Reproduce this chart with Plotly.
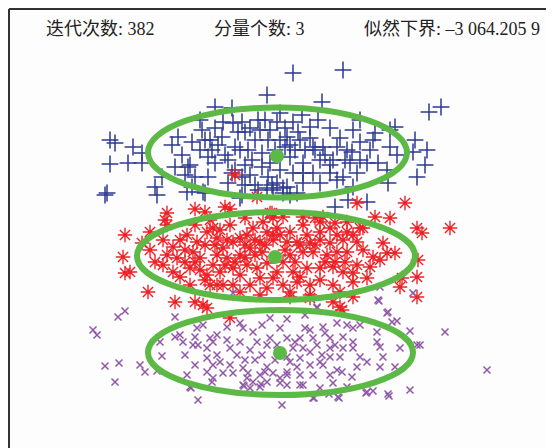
import plotly.graph_objects as go

# ---- data (pixel-space estimates) ----
blue_pts = [(267,95),(215,107),(232,108),(110,140),(115,143),(133,147),(142,153),(110,164),(128,163),(142,163),
 (105,195),(162,177),(155,187),(157,195),(172,145),(182,155),(175,167),(188,167),(192,142),(202,130),(205,140),
 (212,150),(222,137),(223,122),(233,123),(238,132),(242,122),(195,177),(208,177),(192,187),(205,193),(228,160),
 (232,173),(228,183),(242,177),(235,147),(248,150),(252,160),(255,140),(262,153),(262,167),(268,140),(265,120),
 (258,120),(268,177),(258,190),(242,195),(178,137),(208,157),(215,163),(293,73),(343,70),(322,102),(429,112),
 (441,107),(280,113),(302,115),(293,122),(310,127),(330,128),(353,130),(360,120),(373,140),(390,130),(395,127),
 (287,137),(300,140),(313,147),(323,147),(337,147),(347,150),(360,142),(390,147),(397,155),(415,140),(413,152),
 (427,150),(425,165),(417,177),(290,157),(303,163),(320,160),(333,160),(350,163),(360,160),(367,163),(280,170),
 (293,173),(303,173),(313,173),(330,173),(343,177),(357,173),(387,170),(277,183),(287,187),(303,183),(320,183),
 (337,180),(353,187),(388,183),(283,193),(297,193),(283,188),(290,195),(335,207),(348,200),(367,202),(107,193),
 (187,192),(203,192),(240,198),(267,188),(273,190),(245,165),(250,175),(270,163),(275,150),(285,147),(280,140),
 (290,145),(295,150),(272,185),(255,185),(245,185),(235,170),(225,155),(218,145),(210,140),(200,150),(190,165),
 (185,175),(270,130),(285,128),(298,132),(310,138),(315,150),(325,155),(340,138),(345,160),(352,152),(370,150),
 (378,163),(375,133),(260,130),(250,128),(240,150),(200,120),(215,128),(245,132),(277,122),(305,150),(330,165),
 (318,120)]

red_pts = [(195,209),(225,207),(230,209),(167,213),(165,220),(167,225),(210,220),(245,218),(270,213),(125,235),
 (123,257),(125,273),(130,272),(148,292),(175,302),(195,302),(142,243),(163,240),(173,247),(167,255),(177,258),
 (163,265),(173,272),(180,277),(187,235),(197,242),(193,252),(200,258),(190,268),(200,270),(207,275),(190,285),
 (210,285),(217,238),(227,240),(223,248),(233,242),(240,238),(217,255),(227,258),(240,255),(250,248),(260,242),
 (267,232),(273,235),(213,265),(220,272),(233,268),(240,275),(247,265),(257,268),(267,263),(260,278),(250,285),
 (233,285),(223,285),(217,285),(267,288),(273,278),(207,232),(213,228),(247,235),(253,228),(263,222),(273,218),
 (357,203),(405,203),(450,228),(272,213),(283,217),(303,217),(315,218),(323,217),(347,222),(363,228),(375,217),
 (390,218),(417,228),(422,233),(277,228),(290,232),(303,225),(307,235),(320,232),(330,228),(337,235),(347,232),
 (353,235),(360,228),(273,240),(287,242),(297,242),(310,243),(320,240),(330,243),(343,240),(357,242),(383,243),
 (387,253),(395,253),(363,250),(373,257),(380,260),(370,267),(357,265),(347,252),(337,252),(327,255),(313,252),
 (303,252),(290,255),(283,262),(418,260),(417,277),(402,278),(277,272),(293,272),(307,268),(320,268),(333,267),
 (343,272),(353,273),(367,278),(283,285),(297,282),(310,285),(333,285),(353,282),(290,292),(310,295),(340,292),
 (333,302),(400,287),(417,297),(340,307),(203,305),(207,308),(230,318),(290,297),(310,298),(353,297),(342,310),
 (235,175),(257,197),(180,240),(185,250),(205,245),(215,245),(225,265),(235,262),(245,258),(255,255),(262,252),
 (285,250),(295,262),(300,245),(315,245),(325,262),(335,262),(345,262),(195,262),(185,262),(205,280),(245,245),
 (255,240),(280,235),(265,245),(300,277),(320,280),(240,292),(260,295),(150,250),(155,262),(220,230),(230,225),
 (320,222),(335,223),(150,232),(205,212),(195,225)]

purple_pts = [(125,311),(118,317),(175,317),(93,330),(97,335),(105,366),(119,363),(140,365),(145,372),(157,371),
 (115,382),(160,342),(162,356),(175,337),(180,335),(183,342),(197,328),(203,325),(195,337),(185,355),(193,345),
 (198,345),(207,348),(213,342),(217,335),(227,327),(240,323),(243,328),(253,332),(262,325),(270,318),(280,328),
 (195,365),(207,358),(213,365),(217,355),(227,340),(230,348),(237,355),(240,342),(250,350),(257,342),(267,345),
 (270,338),(277,345),(187,375),(207,372),(213,378),(223,373),(233,373),(243,368),(247,378),(253,382),(260,375),
 (267,367),(273,373),(280,378),(287,372),(190,387),(243,385),(250,388),(260,387),(267,382),(280,383),(198,400),
 (282,405),(379,301),(388,312),(397,321),(410,331),(445,332),(287,319),(305,315),(317,308),(305,328),(323,327),
 (337,323),(347,325),(353,328),(360,325),(377,332),(287,338),(300,338),(313,338),(330,338),(343,337),(353,342),
 (377,342),(380,347),(400,348),(417,345),(420,345),(293,348),(303,348),(317,345),(330,348),(343,348),(353,348),
 (287,357),(300,358),(320,362),(330,357),(340,357),(360,357),(383,357),(297,367),(310,365),(323,365),(337,370),
 (357,367),(367,362),(380,367),(395,367),(287,375),(300,375),(313,375),(330,375),(342,372),(352,377),(287,385),
 (303,385),(333,383),(347,387),(367,392),(373,391),(388,394),(410,390),(313,398),(338,397),(487,370),(191,388),
 (212,382),(244,386),(261,384),(314,398),(329,394),(339,398),(366,393),(389,396),(380,287),(378,300),(413,293),
 (317,307),(233,293),(387,313),(392,322),(220,362),(230,365),(255,360),(262,355),(290,362),(295,342),(310,352),
 (322,355),(335,345),(265,372),(275,360),(300,385),(320,388),(210,338),(245,360),(310,330),(325,333),(248,373)]

blue_x = [p[0] for p in blue_pts]; blue_y = [p[1] for p in blue_pts]
red_x = [p[0] for p in red_pts]; red_y = [p[1] for p in red_pts]
purple_x = [p[0] for p in purple_pts]; purple_y = [p[1] for p in purple_pts]

center_x = [277, 275, 280]
center_y = [156, 257, 353]
ell_cx = [277.5, 276, 280.5]
ell_cy = [152.5, 256, 352.5]
ell_rx = [129.5, 139, 132.5]
ell_ry = [45, 44, 42.5]

titles = ["迭代次数: 382", "分量个数: 3", "似然下界: –3 064.205 9"]
title_x = [44, 212, 362]
title_y = [29, 29, 29]

GREEN = "#5cb946"
OFF = 8  # page body margin

fig = go.Figure()
fig.add_trace(go.Scatter(x=blue_x, y=blue_y, mode="markers",
    marker=dict(symbol="cross-thin", size=12, line=dict(color="#2b3990", width=1.5))))
fig.add_trace(go.Scatter(x=red_x, y=red_y, mode="markers",
    marker=dict(symbol="asterisk", size=12, line=dict(color="#ec2227", width=1.4))))
fig.add_trace(go.Scatter(x=purple_x, y=purple_y, mode="markers",
    marker=dict(symbol="x-thin", size=7, line=dict(color="#9156a8", width=1.5))))

shapes = []
for cx, cy, rx, ry in zip(ell_cx, ell_cy, ell_rx, ell_ry):
    shapes.append(dict(type="circle", xref="x", yref="y", x0=cx - rx, x1=cx + rx,
                       y0=cy - ry, y1=cy + ry, line=dict(color=GREEN, width=6)))
shapes.append(dict(type="line", xref="x", yref="y", x0=9, x1=9, y0=9, y1=470,
                   line=dict(color="#333333", width=2)))
shapes.append(dict(type="line", xref="x", yref="y", x0=9, x1=570, y0=9, y1=9,
                   line=dict(color="#333333", width=2)))

fig.add_trace(go.Scatter(x=center_x, y=center_y, mode="markers",
    marker=dict(symbol="circle", size=14, color=GREEN)))

annotations = [dict(x=tx, y=ty, xref="x", yref="y", text=t, showarrow=False,
                    xanchor="left", yanchor="middle",
                    font=dict(family="Liberation Serif, Noto Sans CJK SC", size=18, color="#222222"))
               for t, tx, ty in zip(titles, title_x, title_y)]

fig.update_layout(width=554, height=448, margin=dict(l=0, r=0, t=0, b=0),
                  paper_bgcolor="#fdfdfd", plot_bgcolor="#fdfdfd", showlegend=False,
                  shapes=shapes, annotations=annotations,
                  xaxis=dict(range=[OFF, 554 + OFF], visible=False, fixedrange=True),
                  yaxis=dict(range=[448 + OFF, OFF], visible=False, fixedrange=True))
fig.write_html("out.html")
